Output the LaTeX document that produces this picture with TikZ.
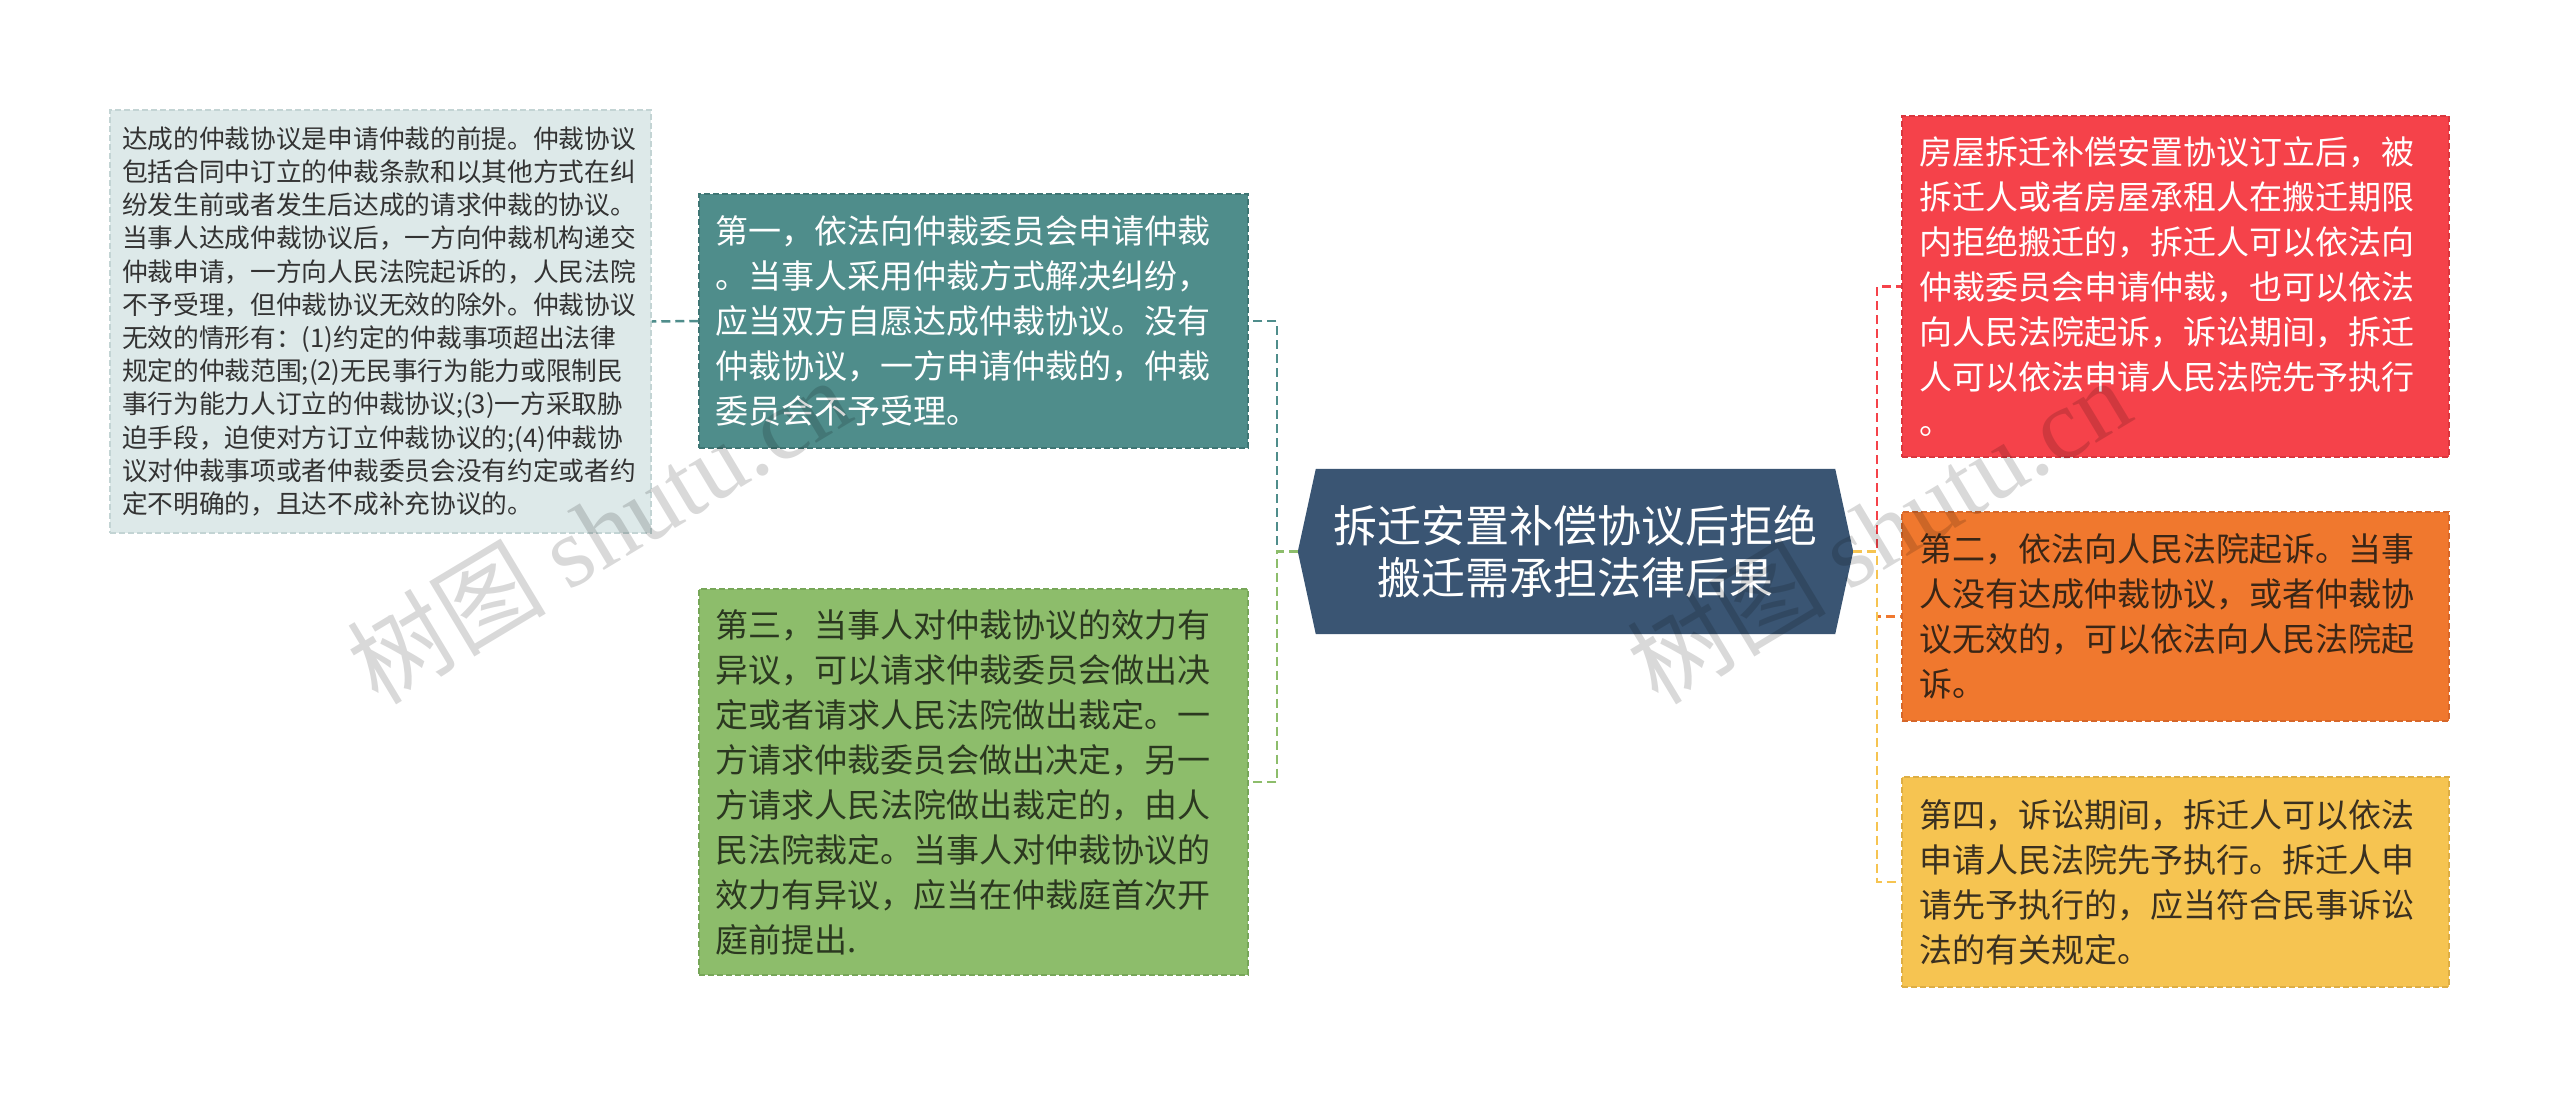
\documentclass[tikz,border=0pt]{standalone}
\usepackage{fontspec}
\setmainfont{Noto Sans CJK SC}
\newfontfamily\wmlatin{Liberation Serif}
\usetikzlibrary{backgrounds}
\definecolor{greyF}{HTML}{DDE9E9}
\definecolor{greyD}{HTML}{C3D4D4}
\definecolor{greyT}{HTML}{333333}
\definecolor{tealF}{HTML}{4F8D8B}
\definecolor{tealD}{HTML}{3F7674}
\definecolor{greenF}{HTML}{8DBD6B}
\definecolor{greenD}{HTML}{77A659}
\definecolor{greenT}{HTML}{2B3820}
\definecolor{rootF}{HTML}{3A5573}
\definecolor{redF}{HTML}{F5424A}
\definecolor{redD}{HTML}{D9373E}
\definecolor{orangeF}{HTML}{F0782E}
\definecolor{orangeD}{HTML}{D6672A}
\definecolor{orangeT}{HTML}{3A2616}
\definecolor{yellowF}{HTML}{F6C451}
\definecolor{yellowD}{HTML}{DDAE45}
\definecolor{yellowT}{HTML}{3A3020}
\begin{document}
\begin{tikzpicture}[x=1pt,y=-1pt,
  card/.style={rectangle, line width=1.5pt, dash pattern=on 6pt off 3pt,
    align=left, inner ysep=0pt},
  bigtext/.style={font=\fontsize{33pt}{45pt}\selectfont},
  conn/.style={line width=2.5pt, dash pattern=on 9pt off 5pt},
  wm/.style={rotate=31, text=black, opacity=0.15, font=\fontsize{100pt}{100pt}\selectfont}]
\useasboundingbox (0,0) rectangle (2560,1098);
\begin{pgfonlayer}{background}
\fill[white] (0,0) rectangle (2560,1098);
\end{pgfonlayer}

% grey detail box
\node[card, fill=greyF, draw=greyD, text=greyT, minimum width=541pt, minimum height=423pt,
  text width=517pt, inner xsep=12pt, font=\fontsize{25.7pt}{33.2pt}\selectfont]
  (grey) at (380.5,321.5) {达成的仲裁协议是申请仲裁的前提。仲裁协议\\
包括合同中订立的仲裁条款和以其他方式在纠\\
纷发生前或者发生后达成的请求仲裁的协议。\\
当事人达成仲裁协议后，一方向仲裁机构递交\\
仲裁申请，一方向人民法院起诉的，人民法院\\
不予受理，但仲裁协议无效的除外。仲裁协议\\
无效的情形有：(1)约定的仲裁事项超出法律\\
规定的仲裁范围;(2)无民事行为能力或限制民\\
事行为能力人订立的仲裁协议;(3)一方采取胁\\
迫手段，迫使对方订立仲裁协议的;(4)仲裁协\\
议对仲裁事项或者仲裁委员会没有约定或者约\\
定不明确的，且达不成补充协议的。};

% teal box
\node[card, bigtext, fill=tealF, draw=tealD, text=white, minimum width=549pt, minimum height=254pt,
  text width=517pt, inner xsep=16pt] (teal) at (973.5,321) {第一，依法向仲裁委员会申请仲裁\\
。当事人采用仲裁方式解决纠纷，\\
应当双方自愿达成仲裁协议。没有\\
仲裁协议，一方申请仲裁的，仲裁\\
委员会不予受理。};

% green box
\node[card, bigtext, fill=greenF, draw=greenD, text=greenT, minimum width=549pt, minimum height=386pt,
  text width=517pt, inner xsep=16pt] (green) at (973.5,782) {第三，当事人对仲裁协议的效力有\\
异议，可以请求仲裁委员会做出决\\
定或者请求人民法院做出裁定。一\\
方请求仲裁委员会做出决定，另一\\
方请求人民法院做出裁定的，由人\\
民法院裁定。当事人对仲裁协议的\\
效力有异议，应当在仲裁庭首次开\\
庭前提出.};

% root
\node[inner sep=0pt, minimum width=555pt, minimum height=165pt, text=white, align=center,
  font=\fontsize{44pt}{52pt}\selectfont] (root) at (1575.5,551.5) {拆迁安置补偿协议后拒绝\\搬迁需承担法律后果};
\begin{pgfonlayer}{background}
\fill[rootF] (root.west) -- ([xshift=18pt]root.north west) -- ([xshift=-18pt]root.north east)
  -- (root.east) -- ([xshift=-18pt]root.south east) -- ([xshift=18pt]root.south west) -- cycle;
\end{pgfonlayer}

% red box
\node[card, bigtext, fill=redF, draw=redD, text=white, minimum width=547pt, minimum height=341pt,
  text width=513pt, inner xsep=17pt] (red) at (2175.5,286.5) {房屋拆迁补偿安置协议订立后，被\\
拆迁人或者房屋承租人在搬迁期限\\
内拒绝搬迁的，拆迁人可以依法向\\
仲裁委员会申请仲裁，也可以依法\\
向人民法院起诉，诉讼期间，拆迁\\
人可以依法申请人民法院先予执行\\
。};

% orange box
\node[card, bigtext, fill=orangeF, draw=orangeD, text=orangeT, minimum width=547pt, minimum height=209pt,
  text width=513pt, inner xsep=17pt] (orange) at (2175.5,616.5) {第二，依法向人民法院起诉。当事\\
人没有达成仲裁协议，或者仲裁协\\
议无效的，可以依法向人民法院起\\
诉。};

% yellow box
\node[card, bigtext, fill=yellowF, draw=yellowD, text=yellowT, minimum width=547pt, minimum height=210pt,
  text width=513pt, inner xsep=17pt] (yellow) at (2175.5,882) {第四，诉讼期间，拆迁人可以依法\\
申请人民法院先予执行。拆迁人申\\
请先予执行的，应当符合民事诉讼\\
法的有关规定。};

% connectors
\draw[conn, draw=tealF] (root.west) -- ++(-21,0) |- (teal.east);
\draw[conn, draw=greenF] (root.west) -- ++(-21,0) |- (green.east);
\draw[conn, draw=tealF] (teal.west) -- (grey.east);
\draw[conn, draw=redF] (root.east) -- ++(24,0) |- (red.west);
\draw[conn, draw=orangeF] (root.east) -- ++(24,0) |- (orange.west);
\draw[conn, draw=yellowF] (root.east) -- ++(24,0) |- (yellow.west);

% watermarks
\node[wm] (wm1) at (598,530) {树图 {\wmlatin shutu.cn}};
\node[wm] (wm2) at (1878,530) {树图 {\wmlatin shutu.cn}};
\end{tikzpicture}
\end{document}
